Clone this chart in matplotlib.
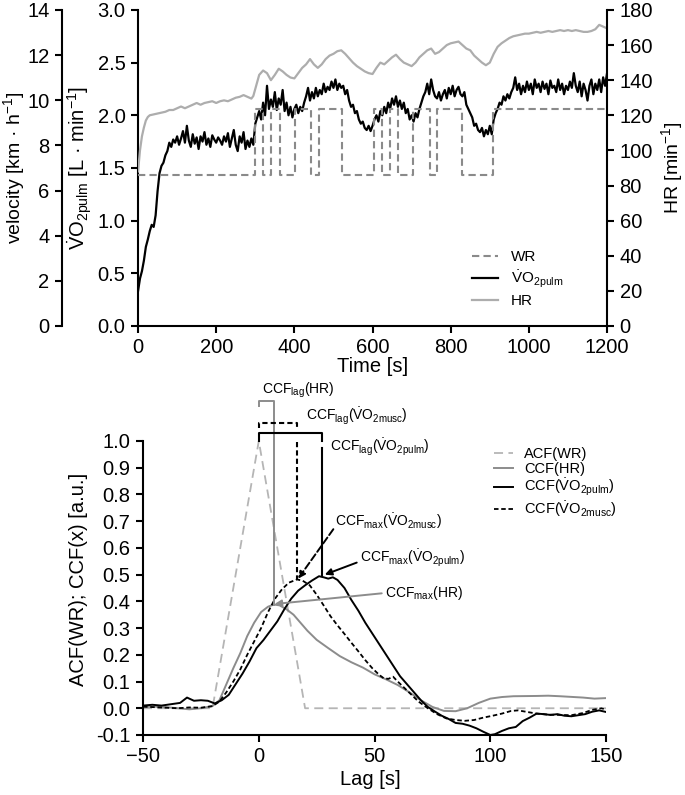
import numpy as np
import matplotlib
matplotlib.use("Agg")
import matplotlib.pyplot as plt

plt.rcParams['font.family'] = ['Liberation Sans', 'DejaVu Sans']
plt.rcParams['mathtext.fontset'] = 'custom'
plt.rcParams['mathtext.rm'] = 'Liberation Sans'
plt.rcParams['mathtext.it'] = 'Liberation Sans:italic'
plt.rcParams['mathtext.bf'] = 'Liberation Sans:bold'

# ---------------- top panel data ----------------
# work rate (treadmill velocity, km/h) as a step sequence
wr_t = [0, 299, 321, 340, 362, 402, 443, 463, 521, 605, 623, 645, 664, 704, 747, 766, 828, 907, 1200]
wr_v = [6.67, 9.63, 6.67, 9.63, 6.67, 9.63, 6.67, 9.63, 6.67, 9.63, 6.67, 9.63, 6.67, 9.63, 6.67, 9.63, 6.67, 9.63, 9.63]

# pulmonary VO2 (L/min), every 5 s from 0 to 1200 s
vo2_t = np.arange(0, 1205, 5)
vo2 = [0.33, 0.45, 0.52, 0.62, 0.75, 0.82, 0.90, 0.96, 0.94, 1.05,
       1.28, 1.45, 1.52, 1.55, 1.62, 1.66, 1.74, 1.70, 1.77, 1.74,
       1.80, 1.72, 1.78, 1.85, 1.74, 1.90, 1.76, 1.70, 1.82, 1.73,
       1.79, 1.68, 1.80, 1.75, 1.84, 1.72, 1.78, 1.70, 1.81, 1.77,
       1.74, 1.79, 1.76, 1.72, 1.80, 1.75, 1.83, 1.70, 1.78, 1.86,
       1.72, 1.66, 1.80, 1.74, 1.84, 1.68, 1.76, 1.70, 1.78, 1.72,
       1.92, 1.98, 2.04, 1.96, 2.12, 2.00, 2.28, 2.06, 2.15, 2.08,
       2.22, 2.05, 2.16, 2.10, 2.24, 2.04, 2.12, 2.00, 2.08, 1.98,
       2.06, 2.10, 2.02, 2.08, 2.04, 2.12, 2.18, 2.26, 2.14, 2.22,
       2.16, 2.26, 2.18, 2.24, 2.20, 2.30, 2.22, 2.27, 2.24, 2.32,
       2.26, 2.34, 2.24, 2.30, 2.26, 2.28, 2.20, 2.24, 2.14, 2.08,
       2.10, 2.02, 2.04, 1.96, 1.92, 1.94, 1.88, 1.86, 1.90, 1.85,
       1.90, 1.96, 2.00, 1.94, 2.04, 2.00, 2.08, 2.02, 2.12, 2.06,
       2.16, 2.10, 2.18, 2.08, 2.14, 2.06, 2.12, 2.02, 2.06, 1.96,
       2.00, 1.94, 2.02, 1.98, 2.06, 2.12, 2.18, 2.22, 2.30, 2.20,
       2.34, 2.24, 2.18, 2.16, 2.22, 2.14, 2.20, 2.24, 2.16, 2.26,
       2.20, 2.28, 2.18, 2.24, 2.27, 2.20, 2.18, 2.22, 2.10, 2.06,
       2.02, 1.98, 1.90, 1.92, 1.86, 1.84, 1.88, 1.80, 1.86, 1.82,
       1.90, 1.82, 1.96, 2.02, 2.06, 2.12, 2.10, 2.18, 2.14, 2.20,
       2.16, 2.22, 2.26, 2.36, 2.24, 2.30, 2.20, 2.28, 2.22, 2.32,
       2.24, 2.30, 2.20, 2.34, 2.26, 2.30, 2.22, 2.32, 2.25, 2.30,
       2.20, 2.33, 2.26, 2.28, 2.22, 2.34, 2.24, 2.30, 2.20, 2.28,
       2.24, 2.32, 2.26, 2.40, 2.28, 2.22, 2.32, 2.18, 2.30, 2.24,
       2.14, 2.28, 2.34, 2.20, 2.30, 2.24, 2.34, 2.22, 2.36, 2.28,
       2.40]

# heart rate (1/min)
hr_t = [0, 5, 10, 15, 20, 25, 30, 40, 50, 60, 70, 80, 90, 100, 110, 120, 130, 140, 150, 160,
        170, 180, 190, 200, 210, 220, 230, 240, 250, 260, 270, 280, 290, 295, 300, 310, 320, 330, 340, 350,
        360, 370, 380, 390, 400, 410, 420, 430, 440, 450, 460, 470, 480, 490, 500, 510, 520, 530, 540, 550,
        560, 570, 580, 590, 600, 610, 620, 630, 640, 650, 660, 670, 680, 690, 700, 710, 720, 730, 740, 750,
        760, 770, 780, 790, 800, 810, 820, 830, 840, 850, 860, 870, 880, 890, 900, 910, 920, 930, 940, 950,
        960, 970, 980, 990, 1000, 1010, 1020, 1030, 1040, 1050, 1060, 1070, 1080, 1090, 1100, 1110, 1120,
        1130, 1140, 1150, 1160, 1170, 1180, 1190, 1200]
hr = [88, 100, 108, 113, 117, 119, 120, 120.5, 121, 121.5, 122, 123, 123, 124, 125, 124, 125, 126, 127, 126,
      127, 127.5, 128, 127, 128, 128.5, 128, 129, 130, 130.5, 131.5, 130.5, 129.5, 131, 135, 143, 145.5, 144, 140, 143,
      146.5, 145, 143, 141.5, 141, 144, 147, 149, 152, 149, 147, 149, 152, 154, 155, 156.5, 157, 155, 152.5, 150,
      148, 146.5, 145, 144, 143.5, 147, 150, 149, 151, 153, 154.5, 152, 150, 149, 148, 150, 153, 155, 157, 158,
      155, 156, 158, 160, 161, 161.5, 162, 160, 158, 157, 154, 152, 150, 148.5, 150, 155, 159, 161, 162.5, 164,
      165, 165.5, 166, 166.5, 166.5, 167, 167.5, 167, 167.5, 168, 167.5, 168, 168.5, 168, 168.5, 168, 168.5,
      168, 167.5, 167.5, 168, 169, 171.5, 170.5, 169.5]

# ---------------- bottom panel data ----------------
acf_lag = [-50, -20, 0, 20, 150]
acf_wr = [0.0, 0.0, 1.0, 0.0, 0.0]

ccf_hr_lag = [-50, -45, -40, -35, -30, -25, -20, -17, -14, -11, -8, -5, -2, 1, 4, 6.5, 9, 12, 15, 18,
              21, 25, 30, 35, 40, 45, 50, 55, 60, 65, 70, 75, 80, 85, 90, 95, 100, 105, 110, 120,
              125, 130, 140, 145, 150]
ccf_hr = [0.005, 0.006, 0.004, 0.0, -0.004, 0.0, 0.008, 0.03, 0.09, 0.15, 0.206, 0.27, 0.32, 0.36, 0.38, 0.388,
          0.385, 0.37, 0.35, 0.32, 0.29, 0.256, 0.225, 0.195, 0.172, 0.152, 0.127, 0.108, 0.087, 0.06,
          0.03, 0.005, -0.01, -0.011, 0.0, 0.02, 0.036, 0.042, 0.045, 0.046, 0.047, 0.045, 0.04, 0.036, 0.038]

ccf_pulm_lag = [-50, -46, -42, -38, -34, -31, -28, -25, -22, -19, -16, -13, -10, -7, -4, -1, 2, 5, 8, 11,
                14, 17, 20, 23, 26, 28, 30, 32, 34, 37, 40, 43, 46, 49, 52, 55, 58, 61, 64, 67,
                70, 73, 76, 79, 82, 85, 88, 91, 94, 97, 100, 102, 105, 108, 111, 114, 117, 120, 123, 126,
                129, 132, 135, 138, 141, 144, 147, 150]
ccf_pulm = [0.01, 0.013, 0.01, 0.015, 0.02, 0.04, 0.028, 0.03, 0.028, 0.018, 0.03, 0.05, 0.09, 0.13, 0.175,
            0.225, 0.255, 0.29, 0.325, 0.37, 0.41, 0.44, 0.46, 0.478, 0.494, 0.49, 0.485, 0.49, 0.48, 0.45,
            0.405, 0.365, 0.32, 0.28, 0.24, 0.2, 0.16, 0.12, 0.09, 0.06, 0.03, 0.005, -0.012, -0.028, -0.04,
            -0.055, -0.058, -0.065, -0.075, -0.088, -0.1, -0.097, -0.085, -0.075, -0.07, -0.048, -0.035, -0.02,
            -0.022, -0.025, -0.022, -0.028, -0.03, -0.026, -0.022, -0.013, -0.008, -0.014]

ccf_musc_lag = [-50, -45, -40, -35, -30, -25, -20, -17, -14, -11, -8, -5, -2, 1, 4, 7, 10, 13, 16.5, 19,
                22, 25, 28, 31, 34, 37, 40, 43, 46, 49, 52, 54, 56, 58, 60, 63, 66, 69, 73, 77,
                81, 85, 89, 93, 97, 101, 105, 109, 112, 116, 120, 125, 130, 135, 140, 144, 148, 150]
ccf_musc = [0.006, 0.004, 0.002, 0.0, 0.003, 0.002, 0.008, 0.025, 0.06, 0.1, 0.145, 0.2, 0.25, 0.3, 0.36,
            0.41, 0.445, 0.47, 0.482, 0.477, 0.46, 0.425, 0.385, 0.344, 0.31, 0.278, 0.245, 0.213, 0.18, 0.15,
            0.125, 0.112, 0.11, 0.118, 0.1, 0.075, 0.05, 0.025, 0.0, -0.022, -0.038, -0.044, -0.047, -0.044,
            -0.035, -0.028, -0.02, -0.01, -0.008, -0.014, -0.02, -0.024, -0.025, -0.026, -0.018, -0.006, 0.0, -0.005]

# lag / maximum read for each CCF
peak_hr = (6.5, 0.388)
peak_musc = (16.5, 0.482)
peak_pulm = (27.5, 0.494)

VO2 = r'$\dot{\mathrm{V}}\mathrm{O}_{\mathrm{2pulm}}$'
VO2M = r'$\dot{\mathrm{V}}\mathrm{O}_{\mathrm{2musc}}$'

WR_COL = '#8a8a8a'
HR_COL = '#adadad'
TICK = 14.5

fig = plt.figure(figsize=(6.85, 7.95), dpi=100)

# ---------------- top panel ----------------
ax = fig.add_axes([0.2015, 0.590, 0.6847, 0.3975])
ax_v = ax.twinx()
ax_hr = ax.twinx()

l_vo2, = ax.plot(vo2_t, vo2, color='black', lw=1.6, zorder=3)
l_wr, = ax_v.plot(wr_t, wr_v, color=WR_COL, lw=1.5, ls=(0, (3.5, 2)), drawstyle='steps-post')
l_hr, = ax_hr.plot(hr_t, hr, color=HR_COL, lw=1.6)

ax.set_xlim(0, 1200)
ax.set_ylim(0, 3.0)
ax_v.set_ylim(0, 14)
ax_hr.set_ylim(0, 180)
ax.set_xticks(np.arange(0, 1201, 200))
ax.set_yticks(np.arange(0, 3.01, 0.5))
ax.set_yticklabels([f'{v:.1f}' for v in np.arange(0, 3.01, 0.5)])
ax_v.set_yticks(np.arange(0, 15, 2))
ax_hr.set_yticks(np.arange(0, 181, 20))

for a in (ax, ax_v, ax_hr):
    a.spines['top'].set_visible(False)
    for s in a.spines.values():
        s.set_linewidth(1.5)
    a.tick_params(direction='out', length=5, width=1.5, pad=4, labelsize=TICK)
ax.spines['right'].set_visible(False)
ax_v.spines['right'].set_visible(False)
ax_v.spines['bottom'].set_visible(False)
ax_v.spines['left'].set_position(('axes', -0.162))
ax_v.yaxis.set_ticks_position('left')
ax_v.yaxis.set_label_position('left')
ax_hr.spines['left'].set_visible(False)
ax_hr.spines['bottom'].set_visible(False)

ax.set_xlabel('Time [s]', fontsize=TICK)
ax.xaxis.set_label_coords(0.5, -0.098)
ax.set_ylabel(VO2 + r' [L · min$^{\mathrm{-1}}$]', fontsize=TICK)
ax.yaxis.set_label_coords(-0.094, 0.5)
ax_v.set_ylabel(r'velocity [km · h$^{\mathrm{-1}}$]', fontsize=14)
ax_v.yaxis.set_label_coords(-0.236, 0.5)
ax_hr.set_ylabel(r'HR [min$^{\mathrm{-1}}$]', fontsize=14)
ax_hr.yaxis.set_label_coords(1.112, 0.5)

ax_hr.legend([l_wr, l_vo2, l_hr], ['WR', VO2, 'HR'], loc='upper left',
             bbox_to_anchor=(0.70, 0.26), frameon=False, fontsize=11,
             handlelength=1.7, labelspacing=0.3, borderaxespad=0)

# ---------------- bottom panel ----------------
bx = fig.add_axes([0.2088, 0.0755, 0.676, 0.3698])
l_acf, = bx.plot(acf_lag, acf_wr, color='#b5b5b5', lw=1.3, ls=(0, (5, 3)))
l_chr, = bx.plot(ccf_hr_lag, ccf_hr, color='#8c8c8c', lw=1.4)
l_cp, = bx.plot(ccf_pulm_lag, ccf_pulm, color='black', lw=1.4)
l_cm, = bx.plot(ccf_musc_lag, ccf_musc, color='black', lw=1.3, ls=(0, (2.5, 1.5)))

bx.set_xlim(-50, 150)
bx.set_ylim(-0.1, 1.0)
bx.set_xticks([-50, 0, 50, 100, 150])
yt = np.round(np.arange(-0.1, 1.01, 0.1), 1)
bx.set_yticks(yt)
bx.set_yticklabels([f'{v:.1f}' for v in yt])
bx.spines['top'].set_visible(False)
bx.spines['right'].set_visible(False)
for s in bx.spines.values():
    s.set_linewidth(1.5)
bx.tick_params(direction='out', length=5, width=1.5, pad=4, labelsize=TICK)
bx.set_xlabel('Lag [s]', fontsize=TICK)
bx.xaxis.set_label_coords(0.49, -0.118)
bx.set_ylabel('ACF(WR); CCF(x) [a.u.]', fontsize=TICK)
bx.yaxis.set_label_coords(-0.119, 0.53)

bx.legend([l_acf, l_chr, l_cp, l_cm],
          ['ACF(WR)', 'CCF(HR)', 'CCF(' + VO2 + ')', 'CCF(' + VO2M + ')'],
          loc='upper left', bbox_to_anchor=(0.745, 1.0), frameon=False, fontsize=10.5,
          handlelength=1.3, labelspacing=0.08, borderaxespad=0)

# lag brackets
bx.plot([0, 0, peak_hr[0], peak_hr[0]], [1.13, 1.148, 1.148, peak_hr[1]],
        color='#8c8c8c', lw=1.4, clip_on=False)
bx.plot([0, 0, peak_musc[0], peak_musc[0]], [1.05, 1.067, 1.067, 1.05],
        color='black', lw=1.5, ls=(0, (2.5, 1.5)), clip_on=False)
bx.plot([peak_musc[0], peak_musc[0]], [0.998, peak_musc[1]],
        color='black', lw=1.5, ls=(0, (2.5, 1.5)), clip_on=False)
bx.plot([0, 0, peak_pulm[0], peak_pulm[0]], [1.0, 1.03, 1.03, 1.0],
        color='black', lw=1.5, clip_on=False)
bx.plot([peak_pulm[0], peak_pulm[0]], [0.975, peak_pulm[1]],
        color='black', lw=1.5, clip_on=False)

fs = 10
bx.text(1.4, 1.19, r'CCF$_{\mathrm{lag}}$(HR)', fontsize=fs, va='center', ha='left')
bx.text(20.4, 1.09, r'CCF$_{\mathrm{lag}}$(' + VO2M + ')', fontsize=fs, va='center', ha='left')
bx.text(30.8, 0.974, r'CCF$_{\mathrm{lag}}$(' + VO2 + ')', fontsize=fs, va='center', ha='left')
bx.text(33.0, 0.70, r'CCF$_{\mathrm{max}}$(' + VO2M + ')', fontsize=fs, va='center', ha='left')
bx.text(43.7, 0.56, r'CCF$_{\mathrm{max}}$(' + VO2 + ')', fontsize=fs, va='center', ha='left')
bx.text(54.5, 0.433, r'CCF$_{\mathrm{max}}$(HR)', fontsize=fs, va='center', ha='left')

bx.annotate('', xy=(peak_musc[0] + 0.5, peak_musc[1] + 0.003), xytext=(32.2, 0.67),
            arrowprops=dict(arrowstyle='-|>', color='black', lw=1.4, ls='--',
                            mutation_scale=10, shrinkA=0, shrinkB=0))
bx.annotate('', xy=(peak_pulm[0] + 1.0, peak_pulm[1] + 0.006), xytext=(42.3, 0.545),
            arrowprops=dict(arrowstyle='-|>', color='black', lw=1.4,
                            mutation_scale=10, shrinkA=0, shrinkB=0))
bx.annotate('', xy=(peak_hr[0] + 0.3, peak_hr[1] + 0.002), xytext=(53.1, 0.43),
            arrowprops=dict(arrowstyle='-|>', color='#8c8c8c', lw=1.4,
                            mutation_scale=10, shrinkA=0, shrinkB=0))

fig.savefig('out.png', dpi=100)
